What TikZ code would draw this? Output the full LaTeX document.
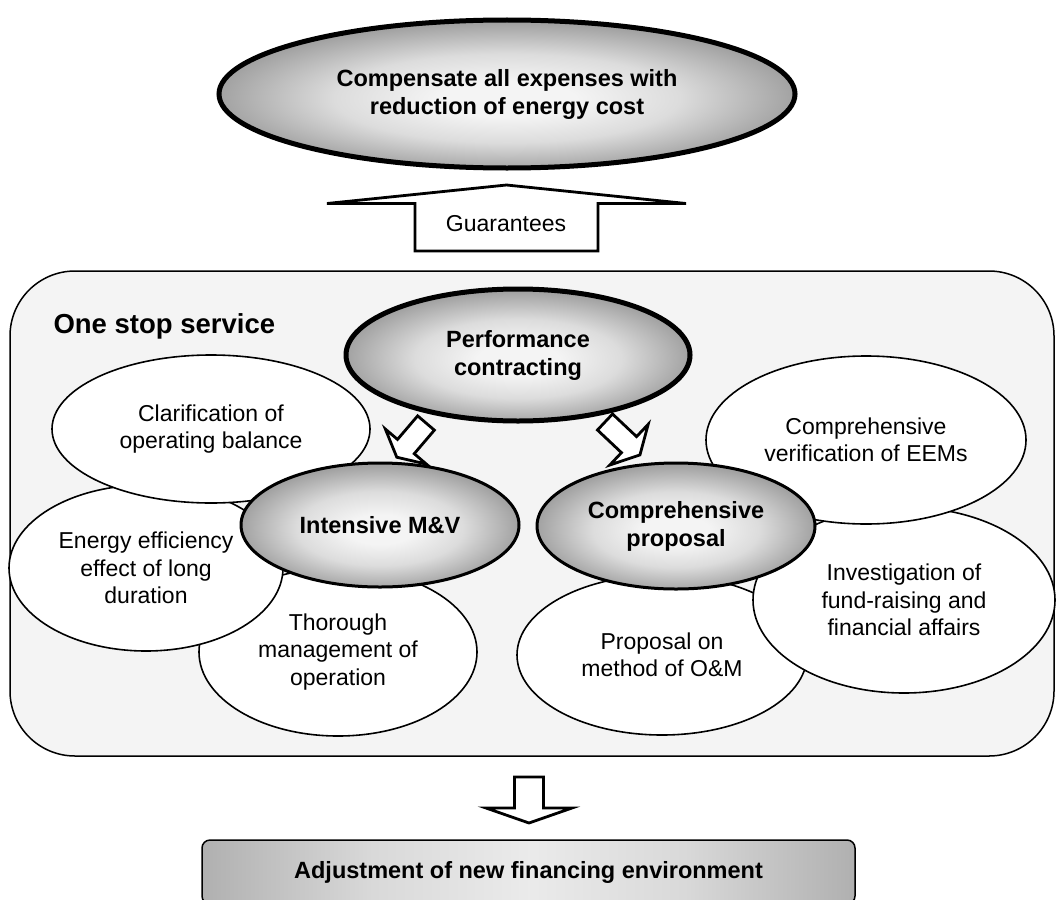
\documentclass[tikz,border=0pt]{standalone}
\usepackage{fontspec}
\setmainfont{Liberation Sans}
\usetikzlibrary{shapes.geometric}

\definecolor{glowhi}{HTML}{F4F4F4}
\definecolor{glowmid}{HTML}{DCDCDC}
\definecolor{glowlo}{HTML}{A2A2A2}
\definecolor{panelfill}{HTML}{F4F4F4}

% soft highlight in the middle of the grey ovals (25bp = border of the shape)
\pgfdeclareradialshading{ovalglow}{\pgfpoint{0bp}{-2bp}}{%
  color(0bp)=(glowhi); color(6bp)=(glowhi); color(15bp)=(glowmid);
  color(25bp)=(glowlo); color(50bp)=(glowlo)}
% grey band, lighter towards the middle (25bp..75bp spans the box)
\pgfdeclarehorizontalshading{boxband}{100bp}{%
  color(0bp)=(black!31); color(25bp)=(black!31); color(38bp)=(black!15);
  color(50bp)=(black!8); color(62bp)=(black!15); color(75bp)=(black!31);
  color(100bp)=(black!31)}

\tikzset{
  txt/.style={font=\fontsize{23}{27.5}\selectfont},
  boldtxt/.style={font=\bfseries\fontsize{23.5}{28}\selectfont},
  bubble/.style={ellipse, draw=black, line width=1.6pt, fill=white,
    inner sep=0pt, align=center, txt},
  keyoval/.style={ellipse, draw=black, line width=3pt, shade, shading=ovalglow,
    inner sep=0pt, align=center, boldtxt},
  bigoval/.style={keyoval, line width=5pt},
  panel/.style={rectangle, draw=black, line width=1.5pt, fill=panelfill,
    rounded corners=65pt, inner sep=0pt},
  resultbox/.style={rectangle, draw=black, line width=1.5pt, rounded corners=8pt,
    shade, shading=boxband, inner sep=0pt, boldtxt},
  arrowline/.style={draw=black, line width=2.8pt, fill=white, line join=miter},
  % block arrow pointing along +x: length / shaft half width / head base / head half width
  pics/hollowarrow/.style args={#1/#2/#3/#4}{code={
    \draw[arrowline] (0,#2) -- (#3,#2) -- (#3,#4) -- (#1,0) -- (#3,-#4)
      -- (#3,-#2) -- (0,-#2) -- cycle;
  }},
}

\begin{document}
\begin{tikzpicture}[x=1pt,y=1pt]
\useasboundingbox (0,0) rectangle (1056,-899);

% goal on top
\node[bigoval, minimum width=576pt, minimum height=148pt] (goal) at (507,-94)
  {Compensate all expenses with\\reduction of energy cost};

% "Guarantees" block arrow
\coordinate (guartail) at (506.5,-251);
\pic[rotate=90] at (guartail) {hollowarrow=66/91.5/47.5/179.5};
\node[txt] (guar) at (506,-224) {Guarantees};

% one stop service panel
\node[panel, minimum width=1044pt, minimum height=485pt] (oss) at (532,-513.5) {};
\node[anchor=west, font=\bfseries\fontsize{27.5}{31}\selectfont] (osstitle) at (50,-326)
  {One stop service};

% left cluster
\node[bubble, minimum width=278pt, minimum height=168pt] (thor) at (338,-652)
  {Thorough\\management of\\operation};
\node[bubble, minimum width=274pt, minimum height=166pt] (eff) at (146,-568)
  {Energy efficiency\\effect of long\\duration};
\node[bubble, minimum width=318pt, minimum height=148pt] (clar) at (211,-429)
  {Clarification of\\operating balance};

% right cluster
\node[bubble, minimum width=290pt, minimum height=160pt] (om) at (662,-655)
  {Proposal on\\method of O\&M};
\node[bubble, minimum width=302pt, minimum height=186pt] (fund) at (904,-600)
  {Investigation of\\fund-raising and\\financial affairs};
\node[bubble, minimum width=320pt, minimum height=168pt] (eem) at (866,-440)
  {Comprehensive\\verification of EEMs};

% arrows from performance contracting
\coordinate (lefttail) at (426,-423);
\coordinate (righttail) at (605,-422);
\pic[rotate=-130.5] at (lefttail) {hollowarrow=45/11/31/27};
\pic[rotate=-43.3] at (righttail) {hollowarrow=48/11/33/28};

% key ovals
\node[keyoval, minimum width=278pt, minimum height=124pt] (mv) at (380,-525)
  {Intensive M\&V};
\node[keyoval, minimum width=278pt, minimum height=126pt] (prop) at (676,-526)
  {Comprehensive\\proposal};
\node[bigoval, minimum width=344pt, minimum height=132pt] (pc) at (518,-355)
  {Performance\\contracting};

% outcome
\coordinate (outtail) at (529,-777);
\pic[rotate=-90] at (outtail) {hollowarrow=46/14.5/31/43};
\node[resultbox, minimum width=653pt, minimum height=64pt] (fin) at (528.5,-872)
  {Adjustment of new financing environment};
\end{tikzpicture}
\end{document}
